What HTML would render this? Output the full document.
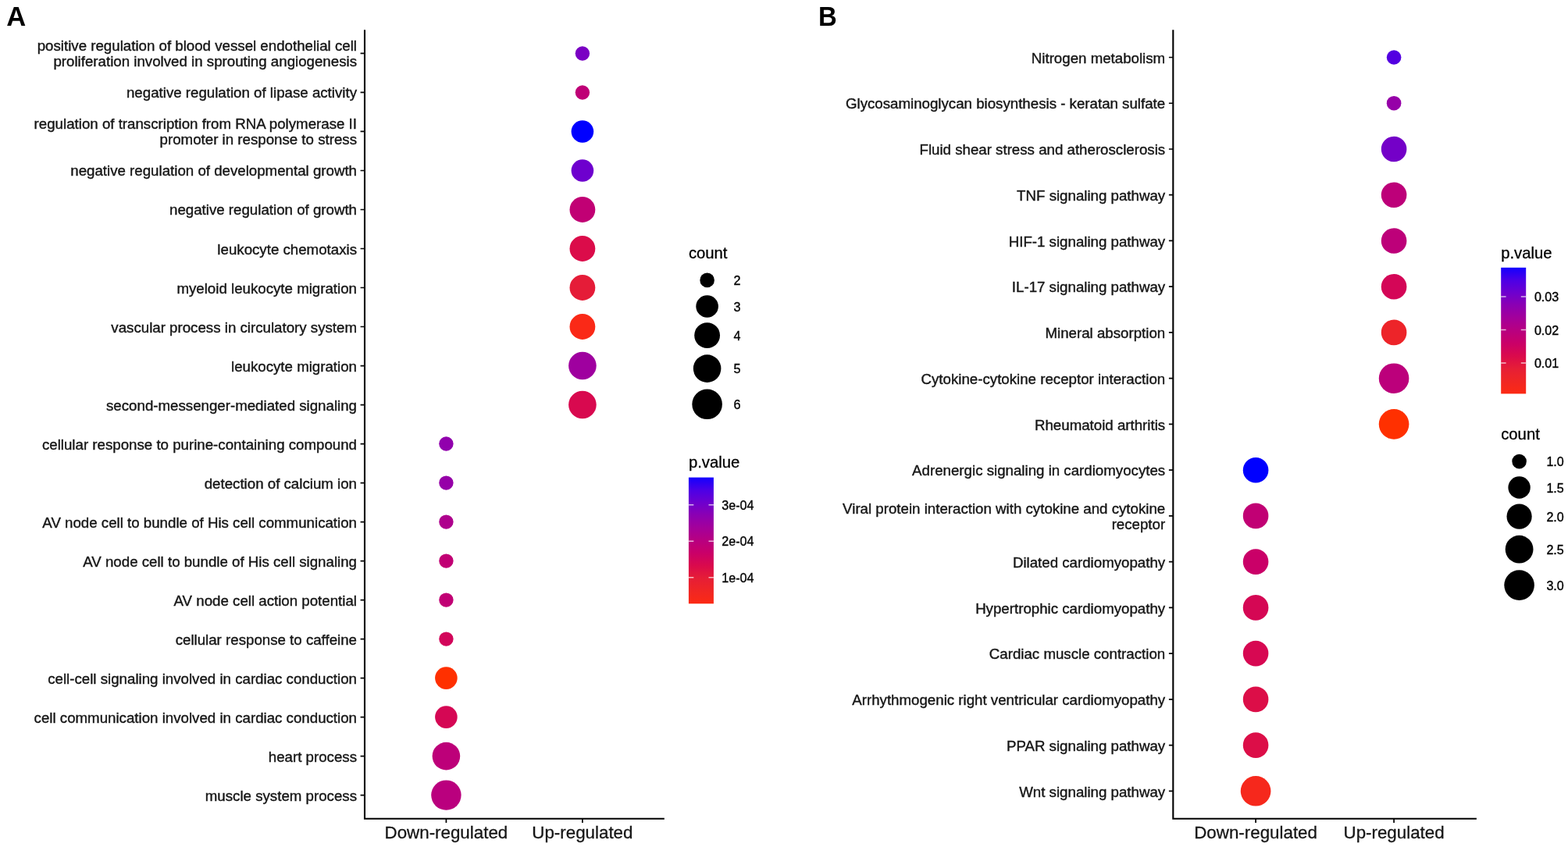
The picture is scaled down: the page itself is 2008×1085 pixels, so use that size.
<!DOCTYPE html>
<html lang="en">
<head>
<meta charset="utf-8">
<title>Enrichment dot plots</title>
<style>
html,body{margin:0;padding:0;background:#fff;}
body{width:2008px;height:1085px;overflow:hidden;}
svg{display:block;font-family:"Liberation Sans", Arial, Helvetica, sans-serif;}
.yl text{font-size:18.71px;fill:#161616;stroke:#161616;stroke-width:0.4px;}
.xl text{font-size:22.35px;fill:#161616;stroke:#161616;stroke-width:0.3px;}
.lt{font-size:20.3px;fill:#000000;stroke:#000000;stroke-width:0.3px;}
.ll{font-size:16.1px;fill:#000000;stroke:#000000;stroke-width:0.35px;}
.pl{font-size:34.6px;font-weight:bold;fill:#000;}
</style>
</head>
<body>
<svg width="2008" height="1085" viewBox="0 0 2008 1085">
<defs><linearGradient id="grad" x1="0" y1="0" x2="0" y2="1"><stop offset="0%" stop-color="#1400FF"/><stop offset="5%" stop-color="#3000F2"/><stop offset="10%" stop-color="#4C00E6"/><stop offset="15%" stop-color="#5D00DA"/><stop offset="20%" stop-color="#6E00CE"/><stop offset="25%" stop-color="#7D00C0"/><stop offset="30%" stop-color="#8C00B2"/><stop offset="35%" stop-color="#9800A6"/><stop offset="40%" stop-color="#A4009A"/><stop offset="45%" stop-color="#AE008D"/><stop offset="50%" stop-color="#B80080"/><stop offset="55%" stop-color="#C10074"/><stop offset="60%" stop-color="#CA0068"/><stop offset="65%" stop-color="#D2055A"/><stop offset="70%" stop-color="#DA0A4C"/><stop offset="75%" stop-color="#E01441"/><stop offset="80%" stop-color="#E61E36"/><stop offset="85%" stop-color="#EB222D"/><stop offset="90%" stop-color="#F02624"/><stop offset="95%" stop-color="#F6281C"/><stop offset="100%" stop-color="#FC2A14"/></linearGradient></defs>
<rect width="2008" height="1085" fill="#fff"/>
<text class="pl" transform="translate(8.2 32.8) scale(1.0001 1)">A</text>
<text class="pl" transform="translate(1047.9 32.8) scale(0.95 1)">B</text>
<g id="panelA">
<circle cx="745.9" cy="68.5" r="9.2" fill="#7A00C3"/>
<circle cx="745.9" cy="118.5" r="9.2" fill="#BF0076"/>
<circle cx="745.9" cy="168.5" r="14.3" fill="#0000FF"/>
<circle cx="745.9" cy="218.5" r="14.3" fill="#6E00CE"/>
<circle cx="745.9" cy="268.5" r="16.4" fill="#C10074"/>
<circle cx="745.9" cy="318.5" r="16.4" fill="#DB0C4A"/>
<circle cx="745.9" cy="368.5" r="16.4" fill="#E51C38"/>
<circle cx="745.9" cy="418.5" r="16.4" fill="#FA2917"/>
<circle cx="745.9" cy="468.5" r="17.8" fill="#9F009F"/>
<circle cx="745.9" cy="518.5" r="17.8" fill="#D8094F"/>
<circle cx="571.4" cy="568.5" r="9.2" fill="#9100AD"/>
<circle cx="571.4" cy="618.6" r="9.2" fill="#9600A8"/>
<circle cx="571.4" cy="668.6" r="9.2" fill="#AE008D"/>
<circle cx="571.4" cy="718.6" r="9.2" fill="#C10074"/>
<circle cx="571.4" cy="768.6" r="9.2" fill="#C10074"/>
<circle cx="571.4" cy="818.6" r="9.2" fill="#D2055A"/>
<circle cx="571.4" cy="868.6" r="14.3" fill="#FF3000"/>
<circle cx="571.4" cy="918.6" r="14.3" fill="#D50754"/>
<circle cx="571.4" cy="968.6" r="17.8" fill="#BD0079"/>
<circle cx="571.4" cy="1018.6" r="19.2" fill="#BA007E"/>
<path d="M467.00 38.30V1048.70H850.80" fill="none" stroke="#000000" stroke-width="2.1" stroke-linecap="butt" stroke-linejoin="miter"/>
<path d="M461.60 68.45H467.00M461.60 118.46H467.00M461.60 168.47H467.00M461.60 218.48H467.00M461.60 268.49H467.00M461.60 318.50H467.00M461.60 368.51H467.00M461.60 418.52H467.00M461.60 468.53H467.00M461.60 518.54H467.00M461.60 568.55H467.00M461.60 618.56H467.00M461.60 668.57H467.00M461.60 718.58H467.00M461.60 768.59H467.00M461.60 818.60H467.00M461.60 868.61H467.00M461.60 918.62H467.00M461.60 968.63H467.00M461.60 1018.64H467.00M571.40 1048.70V1054.10M745.90 1048.70V1054.10" fill="none" stroke="#000000" stroke-width="1.7"/>
<g class="yl" text-anchor="end">
<text x="457.0" y="65">positive regulation of blood vessel endothelial cell</text>
<text x="457.0" y="85">proliferation involved in sprouting angiogenesis</text>
<text x="457.0" y="125">negative regulation of lipase activity</text>
<text x="457.0" y="165">regulation of transcription from RNA polymerase II</text>
<text x="457.0" y="185">promoter in response to stress</text>
<text x="457.0" y="225">negative regulation of developmental growth</text>
<text x="457.0" y="275">negative regulation of growth</text>
<text x="457.0" y="326">leukocyte chemotaxis</text>
<text x="457.0" y="376">myeloid leukocyte migration</text>
<text x="457.0" y="426">vascular process in circulatory system</text>
<text x="457.0" y="476">leukocyte migration</text>
<text x="457.0" y="526">second-messenger-mediated signaling</text>
<text x="457.0" y="576">cellular response to purine-containing compound</text>
<text x="457.0" y="626">detection of calcium ion</text>
<text x="457.0" y="676">AV node cell to bundle of His cell communication</text>
<text x="457.0" y="726">AV node cell to bundle of His cell signaling</text>
<text x="457.0" y="776">AV node cell action potential</text>
<text x="457.0" y="826">cellular response to caffeine</text>
<text x="457.0" y="876">cell-cell signaling involved in cardiac conduction</text>
<text x="457.0" y="926">cell communication involved in cardiac conduction</text>
<text x="457.0" y="976">heart process</text>
<text x="457.0" y="1026">muscle system process</text>
</g>
<g class="xl" text-anchor="middle">
<text x="571.4" y="1073.8">Down-regulated</text>
<text x="745.9" y="1073.8">Up-regulated</text>
</g>
</g>
<g id="panelB">
<circle cx="1785.1" cy="73.5" r="9.3" fill="#5300E1"/>
<circle cx="1785.1" cy="132.2" r="9.3" fill="#9600A8"/>
<circle cx="1785.1" cy="191.0" r="16.3" fill="#7400C8"/>
<circle cx="1785.1" cy="249.7" r="16.3" fill="#BD0079"/>
<circle cx="1785.1" cy="308.5" r="16.3" fill="#BD0079"/>
<circle cx="1785.1" cy="367.2" r="16.3" fill="#D40657"/>
<circle cx="1785.1" cy="425.9" r="16.3" fill="#ED2429"/>
<circle cx="1785.1" cy="484.7" r="19.3" fill="#BC007B"/>
<circle cx="1785.1" cy="543.4" r="19.3" fill="#FF3000"/>
<circle cx="1608.1" cy="602.2" r="16.3" fill="#0000FF"/>
<circle cx="1608.1" cy="660.9" r="16.3" fill="#C10074"/>
<circle cx="1608.1" cy="719.6" r="16.3" fill="#CA0068"/>
<circle cx="1608.1" cy="778.4" r="16.3" fill="#D50754"/>
<circle cx="1608.1" cy="837.1" r="16.3" fill="#D70852"/>
<circle cx="1608.1" cy="895.9" r="16.3" fill="#DC0E48"/>
<circle cx="1608.1" cy="954.6" r="16.3" fill="#DC0E48"/>
<circle cx="1608.1" cy="1013.3" r="19.3" fill="#F6281C"/>
<path d="M1502.30 38.30V1048.70H1890.90" fill="none" stroke="#000000" stroke-width="2.1" stroke-linecap="butt" stroke-linejoin="miter"/>
<path d="M1496.90 73.50H1502.30M1496.90 132.24H1502.30M1496.90 190.98H1502.30M1496.90 249.72H1502.30M1496.90 308.46H1502.30M1496.90 367.20H1502.30M1496.90 425.94H1502.30M1496.90 484.68H1502.30M1496.90 543.42H1502.30M1496.90 602.16H1502.30M1496.90 660.90H1502.30M1496.90 719.64H1502.30M1496.90 778.38H1502.30M1496.90 837.12H1502.30M1496.90 895.86H1502.30M1496.90 954.60H1502.30M1496.90 1013.34H1502.30M1608.10 1048.70V1054.10M1785.10 1048.70V1054.10" fill="none" stroke="#000000" stroke-width="1.7"/>
<g class="yl" text-anchor="end">
<text x="1492.2" y="81">Nitrogen metabolism</text>
<text x="1492.2" y="139">Glycosaminoglycan biosynthesis - keratan sulfate</text>
<text x="1492.2" y="198">Fluid shear stress and atherosclerosis</text>
<text x="1492.2" y="257">TNF signaling pathway</text>
<text x="1492.2" y="316">HIF-1 signaling pathway</text>
<text x="1492.2" y="374">IL-17 signaling pathway</text>
<text x="1492.2" y="433">Mineral absorption</text>
<text x="1492.2" y="492">Cytokine-cytokine receptor interaction</text>
<text x="1492.2" y="551">Rheumatoid arthritis</text>
<text x="1492.2" y="609">Adrenergic signaling in cardiomyocytes</text>
<text x="1492.2" y="658">Viral protein interaction with cytokine and cytokine</text>
<text x="1492.2" y="678">receptor</text>
<text x="1492.2" y="727">Dilated cardiomyopathy</text>
<text x="1492.2" y="786">Hypertrophic cardiomyopathy</text>
<text x="1492.2" y="844">Cardiac muscle contraction</text>
<text x="1492.2" y="903">Arrhythmogenic right ventricular cardiomyopathy</text>
<text x="1492.2" y="962">PPAR signaling pathway</text>
<text x="1492.2" y="1021">Wnt signaling pathway</text>
</g>
<g class="xl" text-anchor="middle">
<text x="1608.1" y="1073.8">Down-regulated</text>
<text x="1785.1" y="1073.8">Up-regulated</text>
</g>
</g>
<g id="legA_size">
<text class="lt" x="881.9" y="331.0">count</text>
<circle cx="905.6" cy="358.9" r="9.3" fill="#000"/>
<text class="ll" x="939.4" y="365">2</text>
<circle cx="905.6" cy="392.5" r="14.3" fill="#000"/>
<text class="ll" x="939.4" y="399">3</text>
<circle cx="905.6" cy="429.6" r="16.4" fill="#000"/>
<text class="ll" x="939.4" y="436">4</text>
<circle cx="905.6" cy="472.1" r="17.8" fill="#000"/>
<text class="ll" x="939.4" y="478">5</text>
<circle cx="905.6" cy="517.8" r="19.3" fill="#000"/>
<text class="ll" x="939.4" y="524">6</text>
</g>
<g id="legA_col">
<text class="lt" x="881.9" y="599.0">p.value</text>
<rect x="881.9" y="611.6" width="32.0" height="161.7" fill="url(#grad)"/>
<path d="M881.9 646.7h6.4M907.5 646.7h6.4" stroke="#fff" stroke-opacity="0.7" stroke-width="1.5" fill="none"/>
<text class="ll" x="924.3" y="653">3e-04</text>
<path d="M881.9 693.2h6.4M907.5 693.2h6.4" stroke="#fff" stroke-opacity="0.7" stroke-width="1.5" fill="none"/>
<text class="ll" x="924.3" y="699">2e-04</text>
<path d="M881.9 739.8h6.4M907.5 739.8h6.4" stroke="#fff" stroke-opacity="0.7" stroke-width="1.5" fill="none"/>
<text class="ll" x="924.3" y="746">1e-04</text>
</g>
<g id="legB_col">
<text class="lt" x="1922.2" y="331.0">p.value</text>
<rect x="1922.2" y="342.8" width="32.0" height="161.6" fill="url(#grad)"/>
<path d="M1922.2 380.1h6.4M1947.8 380.1h6.4" stroke="#fff" stroke-opacity="0.7" stroke-width="1.5" fill="none"/>
<text class="ll" x="1964.9" y="386">0.03</text>
<path d="M1922.2 422.5h6.4M1947.8 422.5h6.4" stroke="#fff" stroke-opacity="0.7" stroke-width="1.5" fill="none"/>
<text class="ll" x="1964.9" y="429">0.02</text>
<path d="M1922.2 465.1h6.4M1947.8 465.1h6.4" stroke="#fff" stroke-opacity="0.7" stroke-width="1.5" fill="none"/>
<text class="ll" x="1964.9" y="471">0.01</text>
</g>
<g id="legB_size">
<text class="lt" x="1922.2" y="563.0">count</text>
<circle cx="1945.6" cy="591.1" r="9.3" fill="#000"/>
<text class="ll" x="1980.4" y="597">1.0</text>
<circle cx="1945.6" cy="624.5" r="14.2" fill="#000"/>
<text class="ll" x="1980.4" y="631">1.5</text>
<circle cx="1945.6" cy="661.6" r="16.1" fill="#000"/>
<text class="ll" x="1980.4" y="668">2.0</text>
<circle cx="1945.6" cy="703.7" r="17.9" fill="#000"/>
<text class="ll" x="1980.4" y="710">2.5</text>
<circle cx="1945.6" cy="749.6" r="19.3" fill="#000"/>
<text class="ll" x="1980.4" y="756">3.0</text>
</g>
</svg>
</body>
</html>
